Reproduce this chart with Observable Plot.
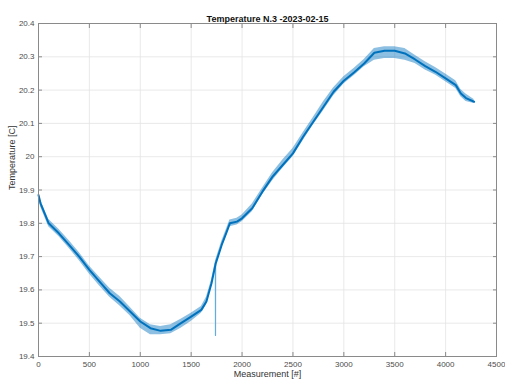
<!DOCTYPE html>
<html>
<head>
<meta charset="utf-8">
<script src="https://cdn.jsdelivr.net/npm/d3@7"></script>
<script src="https://cdn.jsdelivr.net/npm/@observablehq/plot@0.6"></script>
<style>
  html, body { margin: 0; padding: 0; background: #fff; }
  #chart svg { display: block; }
</style>
</head>
<body>
<div id="chart"></div>
<script>
const title = "Temperature N.3 -2023-02-15";
const xLabel = "Measurement [#]";
const yLabel = "Temperature [C]";

const measurement = [0, 20, 100, 200, 300, 400, 500, 600, 700, 800, 900, 1000, 1100, 1200, 1300, 1400, 1500, 1600, 1650, 1700, 1738, 1739, 1740, 1800, 1850, 1880, 1950, 2000, 2100, 2200, 2300, 2400, 2500, 2600, 2700, 2800, 2900, 3000, 3100, 3200, 3300, 3400, 3500, 3600, 3700, 3800, 3900, 4000, 4100, 4150, 4200, 4280];
const temperature = [19.885, 19.86, 19.80, 19.77, 19.735, 19.70, 19.66, 19.625, 19.59, 19.565, 19.535, 19.505, 19.485, 19.477, 19.48, 19.50, 19.52, 19.54, 19.565, 19.62, 19.675, 19.463, 19.678, 19.735, 19.775, 19.80, 19.805, 19.815, 19.845, 19.895, 19.94, 19.975, 20.01, 20.06, 20.105, 20.15, 20.195, 20.228, 20.253, 20.28, 20.312, 20.318, 20.318, 20.31, 20.292, 20.272, 20.255, 20.235, 20.215, 20.19, 20.176, 20.165];
const noiseLow = [19.875, 19.85, 19.79, 19.76, 19.725, 19.688, 19.648, 19.612, 19.578, 19.552, 19.522, 19.485, 19.465, 19.465, 19.468, 19.485, 19.505, 19.53, 19.555, 19.61, 19.665, 19.463, 19.668, 19.725, 19.765, 19.79, 19.795, 19.805, 19.835, 19.885, 19.928, 19.965, 20.0, 20.048, 20.095, 20.138, 20.183, 20.218, 20.243, 20.27, 20.29, 20.295, 20.295, 20.29, 20.28, 20.26, 20.245, 20.225, 20.205, 20.18, 20.166, 20.16];
const noiseHigh = [19.895, 19.87, 19.812, 19.782, 19.748, 19.712, 19.672, 19.638, 19.605, 19.58, 19.548, 19.515, 19.495, 19.49, 19.495, 19.512, 19.53, 19.55, 19.578, 19.63, 19.685, 19.463, 19.688, 19.745, 19.785, 19.81, 19.815, 19.825, 19.858, 19.905, 19.952, 19.99, 20.025, 20.072, 20.118, 20.165, 20.207, 20.24, 20.265, 20.292, 20.325, 20.33, 20.33, 20.325, 20.305, 20.285, 20.268, 20.248, 20.228, 20.202, 20.188, 20.172];
const spikeIndex = 21;

const xTicks = [0, 500, 1000, 1500, 2000, 2500, 3000, 3500, 4000, 4500];
const yTicks = [19.4, 19.5, 19.6, 19.7, 19.8, 19.9, 20.0, 20.1, 20.2, 20.3, 20.4];

const data = measurement.map((m, i) => ({
  x: m, y: temperature[i], lo: noiseLow[i], hi: noiseHigh[i]
}));
const mainData = data.filter((d, i) => i !== spikeIndex);
const spikeData = data.slice(spikeIndex - 1, spikeIndex + 2);

const blue = "#0072BD";
const fmt = d => String(+d.toFixed(1));
const none = () => "";

const chart = Plot.plot({
  width: 505,
  height: 381,
  marginLeft: 38,
  marginRight: 9,
  marginTop: 23,
  marginBottom: 25,
  style: { fontFamily: "Liberation Sans, Arial, sans-serif", fontSize: "8px", color: "#404040", background: "#fff" },
  x: { domain: [0, 4500] },
  y: { domain: [19.4, 20.4] },
  marks: [
    Plot.gridX(xTicks, { stroke: "#e3e3e3", strokeOpacity: 1, strokeWidth: 0.8 }),
    Plot.gridY(yTicks, { stroke: "#e3e3e3", strokeOpacity: 1, strokeWidth: 0.8 }),
    Plot.areaY(mainData, { x: "x", y1: "lo", y2: "hi", fill: blue, fillOpacity: 0.45, curve: "linear" }),
    Plot.line(spikeData, { x: "x", y: "y", stroke: "#62ade0", strokeWidth: 1.2 }),
    Plot.line(mainData, { x: "x", y: "y", stroke: blue, strokeWidth: 2 }),
    Plot.frame({ stroke: "#8a8a8a", strokeWidth: 1 }),
    // inward ticks on all sides
    Plot.axisX(xTicks, { anchor: "bottom", tickSize: -4, tickFormat: none, stroke: "#8a8a8a", label: null }),
    Plot.axisX(xTicks, { anchor: "top", tickSize: -4, tickFormat: none, stroke: "#8a8a8a", label: null }),
    Plot.axisY(yTicks, { anchor: "left", tickSize: -4, tickFormat: none, stroke: "#8a8a8a", label: null }),
    Plot.axisY(yTicks, { anchor: "right", tickSize: -4, tickFormat: none, stroke: "#8a8a8a", label: null }),
    // tick labels
    Plot.axisX(xTicks, { anchor: "bottom", tickSize: 0, tickPadding: 5, tickFormat: d => String(d), fill: "#4d4d4d", label: null, fontSize: 8 }),
    Plot.axisY(yTicks, { anchor: "left", tickSize: 0, tickPadding: 4, tickFormat: fmt, fill: "#4d4d4d", label: null, fontSize: 8 }),
    // axis titles
    Plot.text([xLabel], { frameAnchor: "bottom", dy: 20, fontSize: 9, fill: "#333", text: d => d }),
    Plot.text([yLabel], { frameAnchor: "left", dx: -26, rotate: -90, fontSize: 9, fill: "#333", text: d => d }),
    Plot.text([title], { frameAnchor: "top", dy: -8, fontSize: 9, fontWeight: "bold", fill: "#111", text: d => d })
  ]
});

document.getElementById("chart").appendChild(chart);
</script>
</body>
</html>
